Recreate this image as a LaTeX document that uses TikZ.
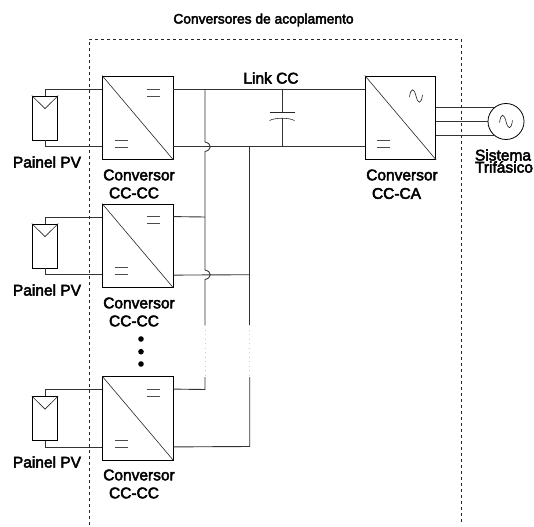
\documentclass[tikz,border=0pt]{standalone}
\usepackage{fontspec}
\setmainfont{Liberation Sans}[FakeBold=3]
\tikzset{
  conv/.style={draw, rectangle, minimum width=70.5pt, minimum height=83.5pt, inner sep=0pt, line width=.8pt},
  pv/.style={draw, rectangle, minimum width=25.5pt, minimum height=44pt, inner sep=0pt, line width=.8pt},
  grid/.style={draw, circle, minimum size=36pt, inner sep=0pt, line width=.8pt},
  lbl/.style={font=\fontsize{15.5}{15.5}\selectfont, inner sep=0pt},
  wire/.style={line width=.9pt, black!80},
  thinwire/.style={line width=.6pt, black!85},
  fade/.style={line width=.8pt, black!20, dash pattern=on 1pt off 3.5pt},
  sinewave/.pic={\draw[thinwire] (-6.5,1)..controls (-5,-9) and (-2,-8) .. (0,0)..controls (2,8) and (5,9) .. (6.5,-1);}
}
\newcommand{\eqsign}[2]{\draw[thinwire, black!70] (#1-6.5,#2-3.4)--(#1+6.5,#2-3.4) (#1-6.5,#2+3.4)--(#1+6.5,#2+3.4);}
\begin{document}
\begin{tikzpicture}[x=1pt, y=-1pt]
\useasboundingbox (0,0) rectangle (534,526);
% boundary
\draw[thinwire, dashed] (89,525)--(89,39)--(461,39)--(461,525);
\node[lbl, font=\fontsize{13.8}{13.8}\selectfont] (title) at (263.5,20) {Conversores de acoplamento};
\node[lbl] (linkcc) at (271,78) {Link CC};
% converters
\node[conv] (c1) at (137.75,117.75) {};
\node[conv] (c2) at (137.75,245.75) {};
\node[conv] (c3) at (137.75,418.25) {};
\node[conv] (c0) at (400.5,117.75) {};
% panels
\node[pv] (pv1) at (45,118) {};
\node[pv] (pv2) at (45,246) {};
\node[pv] (pv3) at (45,418.5) {};
\foreach \c/\p in {c1/pv1,c2/pv2,c3/pv3}{
  \draw[wire] ([yshift=-13.5pt]\c.north west)-|(\p.north);
  \draw[wire] ([yshift=13pt]\c.south west)-|(\p.south);
  \draw[thinwire] (\p.north west)--([yshift=-13pt]\p.north)--(\p.north east);
  \draw[thinwire] (\c.north west)--(\c.south east);
}
\draw[thinwire] (c0.north west)--(c0.south east);
% equal signs and sines
\eqsign{153.5}{92.5}\eqsign{121.5}{143.5}
\eqsign{153.5}{220}\eqsign{121.5}{271}
\eqsign{153.5}{392.5}\eqsign{121.5}{443.5}
\eqsign{383}{143.5}
\pic at (416,96) {sinewave};
% dc link
\draw[wire] ([yshift=-13.5pt]c1.north east)--([yshift=-13.5pt]c0.north west);
\draw[wire] ([yshift=13pt]c1.south east)--([yshift=13pt]c0.south west);
\coordinate (capa) at (282,112.3);
\coordinate (capb) at (282,118);
\draw[wire] (282,89.5)--(capa);
\draw[wire] (capb)--(282,146.5);
\draw[thinwire] (269.5,112.3)--(294.5,112.3);
\draw[thinwire] (269.5,120.5)..controls (275,117.5) and (289,117.5) .. (294.5,120.5);
% first bus, with jumps
\draw[wire] (205,89.5)--(205,142)..controls (212,143.5) and (212,150) .. (205,151.5)--(205,270)..controls (212,271.5) and (212,278) .. (205,279.5)--(205,325);
\draw[fade] (205,325)--(205,377);
\draw[wire] (205,377)--(205,389.5)--([yshift=-13pt]c3.north east);
% second bus
\draw[wire] (249.7,146.5)--(249.7,325);
\draw[fade] (249.7,325)--(249.7,377);
\draw[wire] (249.7,377)--(249.7,446.5)--([yshift=13.5pt]c3.south east);
% second converter
\draw[wire] ([yshift=-13pt]c2.north east)--(205,217);
\draw[wire] ([yshift=12.8pt]c2.south east)--(249.7,274.7);
% dots
\fill (141,339) circle (2.8);
\fill (141,351.7) circle (2.8);
\fill (141,364) circle (2.8);
% three phases
\node[grid] (net) at (506,121.5) {};
\pic at (506,121.5) {sinewave};
\draw[wire] (net.132 -| c0.east)--(net.132);
\draw[wire] (net.west -| c0.east)--(net.west);
\draw[wire] (net.228 -| c0.east)--(net.228);
% labels
\node[lbl] (pvlbl1) at (47,162) {Painel PV};
\node[lbl] (pvlbl2) at (47,290) {Painel PV};
\node[lbl] (pvlbl3) at (47,462) {Painel PV};
\node[lbl] (conv1a) at (139,175) {Conversor};
\node[lbl] (conv1b) at (134,193) {CC-CC};
\node[lbl] (conv2a) at (139,303) {Conversor};
\node[lbl] (conv2b) at (134,321) {CC-CC};
\node[lbl] (conv3a) at (139,475) {Conversor};
\node[lbl] (conv3b) at (134,493) {CC-CC};
\node[lbl] (conv0a) at (402,175) {Conversor};
\node[lbl] (conv0b) at (396.5,193.5) {CC-CA};
\node[lbl] (sis) at (503,155) {Sistema};
\node[lbl] (tri) at (504,167) {Trifásico};
\end{tikzpicture}
\end{document}
